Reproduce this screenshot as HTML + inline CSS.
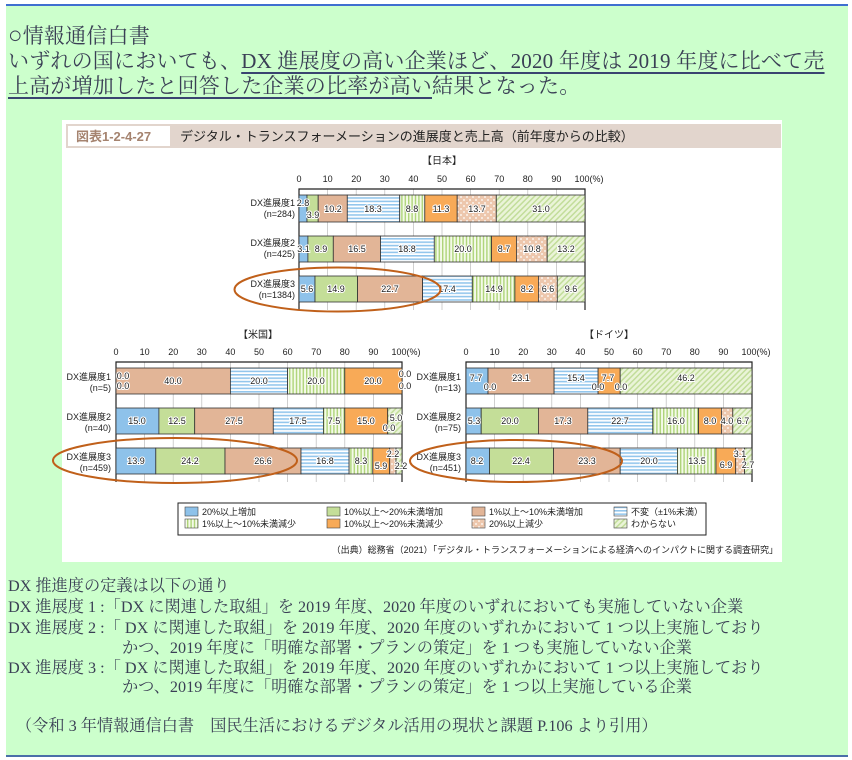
<!DOCTYPE html>
<html><head><meta charset="utf-8">
<style>
html,body{margin:0;padding:0;background:#fff;width:852px;height:760px;overflow:hidden}
.bg{position:absolute;left:6px;top:4px;width:842px;height:753px;background:#ccffcc;border-top:2px solid #3f6fd0;border-bottom:2px solid #4a6fa8;box-sizing:border-box}
.t{position:absolute;left:8px;font-family:"Liberation Serif","Noto Serif CJK SC",serif;color:#3a3f55;white-space:nowrap}
.h{font-size:21px;line-height:25px;letter-spacing:0.2px}
.u{text-decoration:underline;text-decoration-color:#3a4470;text-underline-offset:4px;text-decoration-thickness:1.5px}
.b{font-size:16.2px;line-height:20px}
svg{position:absolute;left:0;top:0}
</style></head><body>
<div class="bg"></div>
<div class="t h" style="top:24px"><span style="font-size:24px">○</span>情報通信白書</div>
<div class="t h" style="top:49px">いずれの国においても、<span class="u">DX 進展度の高い企業ほど、2020 年度は 2019 年度に比べて売</span></div>
<div class="t h" style="top:74px"><span class="u">上高が増加したと回答した企業の比率が高い</span>結果となった。</div>

<svg width="852" height="760" viewBox="0 0 852 760" font-family="Liberation Sans,Noto Sans CJK JP,sans-serif">
<defs>
<pattern id="h" width="4" height="3.4" patternUnits="userSpaceOnUse"><rect width="4" height="3.4" fill="#fff"/><rect width="4" height="1.6" fill="#93c6ec"/></pattern>
<pattern id="v" width="3.4" height="4" patternUnits="userSpaceOnUse"><rect width="3.4" height="4" fill="#f4fae8"/><rect width="1.4" height="4" fill="#afd47a"/></pattern>
<pattern id="d" width="6" height="6" patternUnits="userSpaceOnUse"><rect width="6" height="6" fill="#edc7ad"/><circle cx="2" cy="2" r="0.9" fill="#fff"/><circle cx="5" cy="5" r="0.9" fill="#fff"/></pattern>
<pattern id="g" width="4" height="4" patternUnits="userSpaceOnUse" patternTransform="rotate(45)"><rect width="4" height="4" fill="#eaf4d8"/><rect width="1.5" height="4" fill="#c2dd9a"/></pattern>
</defs>
<rect x="62" y="120" width="720" height="442" fill="#fff"/>
<rect x="66" y="124" width="715" height="24" fill="#e2d5cd"/>
<rect x="68" y="126" width="102" height="20" fill="#fff"/>
<text x="76" y="141" font-size="13" font-weight="bold" fill="#a5836f">図表1-2-4-27</text>
<text x="180" y="141" font-size="13" fill="#222">デジタル・トランスフォーメーションの進展度と売上高（前年度からの比較）</text>

<g fill="#222" font-size="9">
<!-- Japan -->
<text x="442" y="164" text-anchor="middle" font-size="10">【日本】</text>
<g text-anchor="middle">
<text x="299" y="182">0</text><text x="327.6" y="182">10</text><text x="356.2" y="182">20</text><text x="384.8" y="182">30</text><text x="413.4" y="182">40</text><text x="442" y="182">50</text><text x="470.6" y="182">60</text><text x="499.2" y="182">70</text><text x="527.8" y="182">80</text><text x="556.4" y="182">90</text><text x="589" y="182">100(%)</text>
</g>
<g stroke="#bbb" stroke-width="0.7"><path d="M327.6 189V310M356.2 189V310M384.8 189V310M413.4 189V310M442 189V310M470.6 189V310M499.2 189V310M527.8 189V310M556.4 189V310"/></g>
<path d="M299 310V189H585V310" fill="none" stroke="#222" stroke-width="1.2"/>
<g stroke="#333" stroke-width="0.8">
<rect x="299" y="195" width="8" height="27" fill="#8ec2ea"/><rect x="307" y="195" width="11.2" height="27" fill="#c4de98"/><rect x="318.2" y="195" width="29.1" height="27" fill="#e2b597"/><rect x="347.3" y="195" width="52.4" height="27" fill="url(#h)"/><rect x="399.7" y="195" width="25.1" height="27" fill="url(#v)"/><rect x="424.8" y="195" width="32.4" height="27" fill="#f8aa57"/><rect x="457.2" y="195" width="39.1" height="27" fill="url(#d)"/><rect x="496.3" y="195" width="88.7" height="27" fill="url(#g)"/>
<rect x="299" y="236" width="8.9" height="26" fill="#8ec2ea"/><rect x="307.9" y="236" width="25.4" height="26" fill="#c4de98"/><rect x="333.3" y="236" width="47.2" height="26" fill="#e2b597"/><rect x="380.5" y="236" width="53.8" height="26" fill="url(#h)"/><rect x="434.3" y="236" width="57.2" height="26" fill="url(#v)"/><rect x="491.5" y="236" width="24.9" height="26" fill="#f8aa57"/><rect x="516.4" y="236" width="30.8" height="26" fill="url(#d)"/><rect x="547.2" y="236" width="37.8" height="26" fill="url(#g)"/>
<rect x="299" y="276" width="16" height="26" fill="#8ec2ea"/><rect x="315" y="276" width="42.6" height="26" fill="#c4de98"/><rect x="357.6" y="276" width="65" height="26" fill="#e2b597"/><rect x="422.6" y="276" width="49.7" height="26" fill="url(#h)"/><rect x="472.3" y="276" width="42.6" height="26" fill="url(#v)"/><rect x="514.9" y="276" width="23.5" height="26" fill="#f8aa57"/><rect x="538.4" y="276" width="18.9" height="26" fill="url(#d)"/><rect x="557.3" y="276" width="27.7" height="26" fill="url(#g)"/>
</g>
<g text-anchor="middle" stroke="#fff" stroke-width="2" paint-order="stroke">
<text x="303" y="206">2.8</text><text x="313" y="218">3.9</text><text x="333" y="212">10.2</text><text x="373" y="212">18.3</text><text x="412" y="212">8.8</text><text x="441" y="212">11.3</text><text x="477" y="212">13.7</text><text x="541" y="212">31.0</text>
<text x="303.5" y="252">3.1</text><text x="321" y="252">8.9</text><text x="357" y="252">16.5</text><text x="407" y="252">18.8</text><text x="463" y="252">20.0</text><text x="504" y="252">8.7</text><text x="532" y="252">10.8</text><text x="566" y="252">13.2</text>
<text x="307" y="292">5.6</text><text x="336" y="292">14.9</text><text x="390" y="292">22.7</text><text x="447" y="292">17.4</text><text x="494" y="292">14.9</text><text x="527" y="292">8.2</text><text x="548" y="292">6.6</text><text x="571" y="292">9.6</text>
</g>
<g text-anchor="end">
<text x="295" y="206">DX進展度1</text><text x="295" y="217">(n=284)</text>
<text x="295" y="246">DX進展度2</text><text x="295" y="257">(n=425)</text>
<text x="295" y="287">DX進展度3</text><text x="295" y="298">(n=1384)</text>
</g>
<ellipse cx="337.5" cy="289.5" rx="103" ry="22" fill="none" stroke="#c0601a" stroke-width="2"/>

<!-- US -->
<text x="258" y="338" text-anchor="middle" font-size="10">【米国】</text>
<g text-anchor="middle">
<text x="116" y="355">0</text><text x="144.6" y="355">10</text><text x="173.2" y="355">20</text><text x="201.8" y="355">30</text><text x="230.4" y="355">40</text><text x="259" y="355">50</text><text x="287.6" y="355">60</text><text x="316.2" y="355">70</text><text x="344.8" y="355">80</text><text x="373.4" y="355">90</text><text x="406" y="355">100(%)</text>
</g>
<g stroke="#bbb" stroke-width="0.7"><path d="M144.6 362V482M173.2 362V482M201.8 362V482M230.4 362V482M259 362V482M287.6 362V482M316.2 362V482M344.8 362V482M373.4 362V482"/></g>
<path d="M116 482V362H402V482" fill="none" stroke="#222" stroke-width="1.2"/>
<g stroke="#333" stroke-width="0.8">
<rect x="116" y="368" width="114.4" height="26" fill="#e2b597"/><rect x="230.4" y="368" width="57.2" height="26" fill="url(#h)"/><rect x="287.6" y="368" width="57.2" height="26" fill="url(#v)"/><rect x="344.8" y="368" width="57.2" height="26" fill="#f8aa57"/>
<rect x="116" y="408" width="42.9" height="26" fill="#8ec2ea"/><rect x="158.9" y="408" width="35.8" height="26" fill="#c4de98"/><rect x="194.7" y="408" width="78.6" height="26" fill="#e2b597"/><rect x="273.3" y="408" width="50.1" height="26" fill="url(#h)"/><rect x="323.4" y="408" width="21.4" height="26" fill="url(#v)"/><rect x="344.8" y="408" width="42.9" height="26" fill="#f8aa57"/><rect x="387.7" y="408" width="14.3" height="26" fill="url(#g)"/>
<rect x="116" y="448" width="39.8" height="26" fill="#8ec2ea"/><rect x="155.8" y="448" width="69.2" height="26" fill="#c4de98"/><rect x="225" y="448" width="76" height="26" fill="#e2b597"/><rect x="301" y="448" width="48.1" height="26" fill="url(#h)"/><rect x="349.1" y="448" width="23.7" height="26" fill="url(#v)"/><rect x="372.8" y="448" width="16.9" height="26" fill="#f8aa57"/><rect x="389.7" y="448" width="6.3" height="26" fill="url(#d)"/><rect x="396" y="448" width="6" height="26" fill="url(#g)"/>
</g>
<g text-anchor="middle" stroke="#fff" stroke-width="2" paint-order="stroke">
<text x="123" y="379">0.0</text><text x="123" y="389">0.0</text><text x="173" y="384">40.0</text><text x="259" y="384">20.0</text><text x="316" y="384">20.0</text><text x="373" y="384">20.0</text><text x="405" y="377">0.0</text><text x="405" y="389">0.0</text>
<text x="137" y="424">15.0</text><text x="177" y="424">12.5</text><text x="234" y="424">27.5</text><text x="298" y="424">17.5</text><text x="334" y="424">7.5</text><text x="366" y="424">15.0</text><text x="396" y="421">5.0</text><text x="389" y="431">0.0</text>
<text x="136" y="464">13.9</text><text x="190" y="464">24.2</text><text x="263" y="464">26.6</text><text x="325" y="464">16.8</text><text x="361" y="464">8.3</text><text x="381" y="469">5.9</text><text x="393" y="457">2.2</text><text x="401" y="469">2.2</text>
</g>
<g text-anchor="end">
<text x="111" y="380">DX進展度1</text><text x="111" y="391">(n=5)</text>
<text x="111" y="420">DX進展度2</text><text x="111" y="431">(n=40)</text>
<text x="111" y="460">DX進展度3</text><text x="111" y="471">(n=459)</text>
</g>
<ellipse cx="175" cy="460.5" rx="122" ry="22.5" fill="none" stroke="#c0601a" stroke-width="2"/>

<!-- Germany -->
<text x="609" y="338" text-anchor="middle" font-size="10">【ドイツ】</text>
<g text-anchor="middle">
<text x="466" y="355">0</text><text x="494.6" y="355">10</text><text x="523.2" y="355">20</text><text x="551.8" y="355">30</text><text x="580.4" y="355">40</text><text x="609" y="355">50</text><text x="637.6" y="355">60</text><text x="666.2" y="355">70</text><text x="694.8" y="355">80</text><text x="723.4" y="355">90</text><text x="756" y="355">100(%)</text>
</g>
<g stroke="#bbb" stroke-width="0.7"><path d="M494.6 362V482M523.2 362V482M551.8 362V482M580.4 362V482M609 362V482M637.6 362V482M666.2 362V482M694.8 362V482M723.4 362V482"/></g>
<path d="M466 482V362H752V482" fill="none" stroke="#222" stroke-width="1.2"/>
<g stroke="#333" stroke-width="0.8">
<rect x="466" y="368" width="22" height="26" fill="#8ec2ea"/><rect x="488" y="368" width="66.1" height="26" fill="#e2b597"/><rect x="554.1" y="368" width="44" height="26" fill="url(#h)"/><rect x="598.1" y="368" width="22.1" height="26" fill="#f8aa57"/><rect x="620.2" y="368" width="131.8" height="26" fill="url(#g)"/>
<rect x="466" y="408" width="15.2" height="26" fill="#8ec2ea"/><rect x="481.2" y="408" width="57.2" height="26" fill="#c4de98"/><rect x="538.4" y="408" width="49.4" height="26" fill="#e2b597"/><rect x="587.8" y="408" width="65" height="26" fill="url(#h)"/><rect x="652.8" y="408" width="45.7" height="26" fill="url(#v)"/><rect x="698.5" y="408" width="22.9" height="26" fill="#f8aa57"/><rect x="721.4" y="408" width="11.4" height="26" fill="url(#d)"/><rect x="732.8" y="408" width="19.2" height="26" fill="url(#g)"/>
<rect x="466" y="448" width="23.5" height="26" fill="#8ec2ea"/><rect x="489.5" y="448" width="64" height="26" fill="#c4de98"/><rect x="553.5" y="448" width="66.7" height="26" fill="#e2b597"/><rect x="620.2" y="448" width="57.2" height="26" fill="url(#h)"/><rect x="677.4" y="448" width="38.6" height="26" fill="url(#v)"/><rect x="716" y="448" width="19.7" height="26" fill="#f8aa57"/><rect x="735.7" y="448" width="8.9" height="26" fill="url(#d)"/><rect x="744.6" y="448" width="7.4" height="26" fill="url(#g)"/>
</g>
<g text-anchor="middle" stroke="#fff" stroke-width="2" paint-order="stroke">
<text x="476" y="381">7.7</text><text x="490" y="390">0.0</text><text x="521" y="381">23.1</text><text x="576" y="381">15.4</text><text x="598" y="390">0.0</text><text x="608" y="381">7.7</text><text x="621" y="390">0.0</text><text x="686" y="381">46.2</text>
<text x="474" y="424">5.3</text><text x="510" y="424">20.0</text><text x="563" y="424">17.3</text><text x="620" y="424">22.7</text><text x="676" y="424">16.0</text><text x="710" y="424">8.0</text><text x="727" y="424">4.0</text><text x="743" y="424">6.7</text>
<text x="477" y="464">8.2</text><text x="521" y="464">22.4</text><text x="587" y="464">23.3</text><text x="649" y="464">20.0</text><text x="697" y="464">13.5</text><text x="726" y="468">6.9</text><text x="740" y="457">3.1</text><text x="748" y="468">2.7</text>
</g>
<g text-anchor="end">
<text x="461" y="380">DX進展度1</text><text x="461" y="391">(n=13)</text>
<text x="461" y="420">DX進展度2</text><text x="461" y="431">(n=75)</text>
<text x="461" y="460">DX進展度3</text><text x="461" y="471">(n=451)</text>
</g>
<ellipse cx="516" cy="461" rx="106" ry="21" fill="none" stroke="#c0601a" stroke-width="2"/>

<!-- legend -->
<rect x="178" y="503" width="528" height="32" fill="#fff" stroke="#222" stroke-width="1"/>
<g stroke="#444" stroke-width="0.6">
<rect x="185" y="507" width="13" height="9" fill="#8ec2ea"/><rect x="327" y="507" width="13" height="9" fill="#c4de98"/><rect x="472" y="507" width="13" height="9" fill="#e2b597"/><rect x="614" y="507" width="13" height="9" fill="url(#h)"/>
<rect x="185" y="519" width="13" height="9" fill="url(#v)"/><rect x="327" y="519" width="13" height="9" fill="#f8aa57"/><rect x="472" y="519" width="13" height="9" fill="url(#d)"/><rect x="614" y="519" width="13" height="9" fill="url(#g)"/>
</g>
<text x="202" y="515">20%以上増加</text><text x="344" y="515">10%以上～20%未満増加</text><text x="489" y="515">1%以上～10%未満増加</text><text x="631" y="515">不変（±1%未満）</text>
<text x="202" y="527">1%以上～10%未満減少</text><text x="344" y="527">10%以上～20%未満減少</text><text x="489" y="527">20%以上減少</text><text x="631" y="527">わからない</text>
<text x="778" y="553" text-anchor="end">（出典）総務省（2021）「デジタル・トランスフォーメーションによる経済へのインパクトに関する調査研究」</text>
</g>
</svg>

<div class="t b" style="top:576px">DX 推進度の定義は以下の通り</div>
<div class="t b" style="top:597px">DX 進展度 1 :「DX に関連した取組」を 2019 年度、2020 年度のいずれにおいても実施していない企業</div>
<div class="t b" style="top:618px">DX 進展度 2 :「 DX に関連した取組」を 2019 年度、2020 年度のいずれかにおいて 1 つ以上実施しており</div>
<div class="t b" style="top:638px;left:122px">かつ、2019 年度に「明確な部署・プランの策定」を 1 つも実施していない企業</div>
<div class="t b" style="top:658px">DX 進展度 3 :「 DX に関連した取組」を 2019 年度、2020 年度のいずれかにおいて 1 つ以上実施しており</div>
<div class="t b" style="top:677px;left:122px">かつ、2019 年度に「明確な部署・プランの策定」を 1 つ以上実施している企業</div>
<div class="t b" style="top:716px;left:16px">（令和 3 年情報通信白書　国民生活におけるデジタル活用の現状と課題 P.106 より引用）</div>
</body></html>
